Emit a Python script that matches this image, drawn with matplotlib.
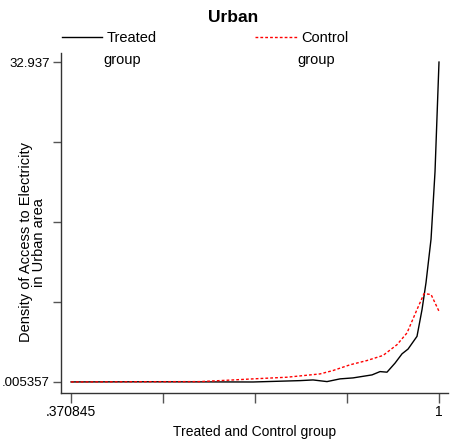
import numpy as np
import matplotlib
matplotlib.use("Agg")
import matplotlib.pyplot as plt

plt.rcParams['font.family'] = ['Liberation Sans', 'DejaVu Sans']

# values
treated_x = [0.370845, 0.4204, 0.5059, 0.5914, 0.6820, 0.7624, 0.7846, 0.8085,
             0.8308, 0.8530, 0.8855, 0.8992, 0.9111, 0.9248, 0.9368, 0.9471,
             0.9624, 0.9710, 0.9778, 0.9864, 0.9932, 1.0]
treated_y = [0.005357, 0.01, 0.02, 0.01, 0.0, 0.14, 0.21, 0.04,
             0.32, 0.42, 0.73, 1.07, 1.01, 1.94, 2.90, 3.39,
             4.70, 7.46, 10.23, 14.71, 21.65, 32.937]

control_x = [0.370845, 0.5059, 0.5914, 0.6478, 0.6820, 0.7401, 0.7966, 0.8188,
             0.8479, 0.8769, 0.9043, 0.9282, 0.9453, 0.9624, 0.9744, 0.9864, 1.0]
control_y = [0.005357, 0.03, 0.04, 0.21, 0.32, 0.49, 0.83, 1.18,
             1.77, 2.21, 2.73, 3.84, 5.05, 7.46, 9.09, 9.01, 7.28]

xmin, xmax = 0.370845, 1.0
ymin, ymax = 0.005357, 32.937

W, H = 459, 441
fig = plt.figure(figsize=(W / 100, H / 100), dpi=100)

def fx(px):
    return px / W

def fy(py):
    return 1 - py / H

ax = fig.add_axes([fx(61), fy(393), fx(448) - fx(61), fy(53) - fy(393)])

ax.plot(treated_x, treated_y, color='black', lw=1.0)
ax.plot(control_x, control_y, color='red', lw=1.0, ls=(0, (2, 1.5)))

ax.set_xlim(0.3537, 1.0154)
ax.set_ylim(-1.134, 33.87)

ax.spines['top'].set_visible(False)
ax.spines['right'].set_visible(False)
for s in ['left', 'bottom']:
    ax.spines[s].set_color('#333333')
    ax.spines[s].set_linewidth(1.0)

xt = np.linspace(xmin, xmax, 5)
yt = np.linspace(ymin, ymax, 5)
ax.set_xticks(xt)
ax.set_xticklabels(['.370845', '', '', '', '1'])
ax.set_yticks(yt)
ax.set_yticklabels(['.005357', '', '', '', '32.937'])
ax.tick_params(axis='x', length=7, width=1.0, color='#555555',
               labelsize=10, pad=2)
ax.tick_params(axis='y', length=6, width=1.0, color='#555555',
               labelsize=9.5, pad=2)

ax.set_xlabel('Treated and Control group', fontsize=10, labelpad=4)

fig.text(fx(26), fy(242), 'Density of Access to Electricity', rotation=90,
         ha='center', va='center', fontsize=10.5)
fig.text(fx(39), fy(243), 'in Urban area', rotation=90,
         ha='center', va='center', fontsize=10.5)

fig.text(fx(233), fy(17), 'Urban', ha='center', va='center',
         fontsize=12.5, fontweight='bold')

# legend
fig.add_artist(plt.Line2D([fx(62), fx(102)], [fy(37), fy(37)],
                          color='black', lw=1.0))
fig.text(fx(107), fy(38), 'Treated', ha='left', va='center', fontsize=10.5)
fig.text(fx(103), fy(60), 'group', ha='left', va='center', fontsize=10.5)
fig.add_artist(plt.Line2D([fx(255), fx(297)], [fy(37), fy(37)],
                          color='red', lw=1.0, ls=(0, (2, 1.5))))
fig.text(fx(301), fy(38), 'Control', ha='left', va='center', fontsize=10.5)
fig.text(fx(297), fy(60), 'group', ha='left', va='center', fontsize=10.5)

fig.savefig('out.png', dpi=100)
